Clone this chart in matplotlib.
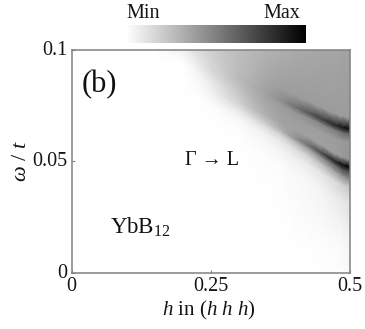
import matplotlib
matplotlib.use("Agg")
import matplotlib.pyplot as plt
import matplotlib.transforms as mtrans
import numpy as np
from matplotlib.cm import ScalarMappable
from matplotlib.colors import Normalize

plt.rcParams['font.family'] = ['Liberation Serif', 'DejaVu Serif']
plt.rcParams['mathtext.fontset'] = 'custom'
plt.rcParams['mathtext.rm'] = 'Liberation Serif'
plt.rcParams['mathtext.it'] = 'Liberation Serif:italic'
plt.rcParams['mathtext.fallback'] = 'stix'

h_vals = [0, .15, .2, .225, .25, .275, .3, .325, .35, .375, .4, .425, .45, .475, .4875, .5]
# rows of the mesh follow the two bands, so each row has its own w per column
w_rows = [
    [.1] * 16,
    [.0975, .0975, .0975, .0965, .096, .094, .092, .089, .0855, .0825, .0795, .0768, .0738, .071, .07, .0694],
    [.095, .095, .095, .093, .091, .089, .087, .084, .0805, .0775, .0745, .0718, .0688, .066, .065, .0644],
    [.0925, .0925, .0925, .0905, .0885, .0865, .0845, .0815, .078, .075, .072, .0693, .0663, .0637, .0627, .0621],
    [.089, .089, .089, .087, .085, .083, .081, .078, .0745, .0715, .0685, .0658, .0628, .06, .059, .0584],
    [.0885, .0835, .0835, .0825, .0805, .0785, .0765, .0735, .0705, .0675, .064, .0608, .057, .053, .0515, .0507],
    [.085, .08, .08, .079, .077, .075, .073, .07, .067, .064, .0605, .0573, .0535, .0497, .0482, .0473],
    [.083, .078, .078, .077, .075, .073, .071, .068, .065, .062, .0585, .0553, .0515, .0477, .0462, .0453],
    [.08, .075, .075, .074, .072, .07, .068, .065, .062, .059, .0555, .0523, .0485, .0447, .0432, .0423],
    [.076, .071, .071, .07, .068, .066, .064, .061, .058, .055, .0515, .0483, .0445, .0407, .0392, .0383],
    [.069, .064, .064, .063, .061, .059, .057, .054, .051, .048, .0445, .0413, .0375, .0337, .0322, .0313],
    [.015] * 16,
    [0] * 16,
]
# intensity read from the grey level
intensity = [
    [0, 0, .06, .14, .19, .23, .26, .28, .30, .31, .33, .34, .35, .35, .36, .36],
    [0, 0, .03, .10, .17, .22, .26, .30, .35, .38, .39, .39, .39, .39, .39, .39],
    [0, 0, .01, .07, .15, .21, .27, .32, .37, .44, .55, .66, .76, .86, .93, .95],
    [0, 0, 0, .04, .12, .19, .25, .31, .36, .38, .41, .44, .47, .52, .58, .60],
    [0, 0, 0, .025, .08, .15, .22, .29, .34, .37, .38, .38, .38, .39, .40, .40],
    [0, 0, 0, .015, .05, .11, .18, .25, .31, .36, .37, .37, .37, .38, .40, .42],
    [0, 0, 0, .005, .025, .06, .10, .15, .21, .30, .42, .57, .72, .88, .96, .98],
    [0, 0, 0, 0, .012, .03, .06, .09, .13, .18, .26, .36, .47, .60, .70, .72],
    [0, 0, 0, 0, .004, .012, .025, .04, .06, .09, .13, .18, .26, .36, .44, .50],
    [0, 0, 0, 0, 0, .004, .01, .02, .035, .05, .065, .08, .11, .15, .19, .23],
    [0, 0, 0, 0, 0, 0, .002, .005, .01, .015, .025, .035, .05, .08, .10, .12],
    [0, 0, 0, 0, 0, 0, 0, .001, .002, .003, .005, .008, .012, .02, .035, .05],
    [0, 0, 0, 0, 0, 0, 0, 0, 0, 0, .001, .002, .004, .006, .01, .02],
]
x_ticks = [0, 0.25, 0.5]
x_labels = ['0', '0.25', '0.5']
y_ticks = [0, 0.05, 0.1]
y_labels = ['0', '0.05', '0.1']

W, H = 365, 329
fig = plt.figure(figsize=(W / 100, H / 100), dpi=100)
ax = fig.add_axes([71.5 / W, 1 - 272.5 / H, 278.5 / W, 222.5 / H])

X, _ = np.meshgrid(h_vals, range(len(w_rows)))
ax.pcolormesh(X, np.array(w_rows), np.array(intensity), shading='gouraud', cmap='gray_r', vmin=0, vmax=1)
ax.set_xlim(0, 0.5)
ax.set_ylim(0, 0.1)

ax.set_xticks(x_ticks, x_labels, fontsize=14.5)
ax.set_yticks(y_ticks, y_labels, fontsize=14.5)
ax.tick_params(direction='in', length=2.5, width=0.8, color='#808080', pad=3, labelcolor='#151515')
# y tick labels sit slightly above their ticks
lift = mtrans.ScaledTranslation(0, 2 / 100, fig.dpi_scale_trans)
for lab in ax.get_yticklabels():
    lab.set_transform(lab.get_transform() + lift)
for s in ax.spines.values():
    s.set_color('#808080')
    s.set_linewidth(1.1)
ax.set_xlabel(r'$h$ in ($h$ $h$ $h$)', fontsize=15, color='#151515')
ax.xaxis.set_label_coords(0.4937, -0.118)
ax.set_ylabel(r'$\omega$ / $t$', fontsize=16, labelpad=1, color='#151515')

ax.text(0.018, 0.0845, '(b)', fontsize=22, va='center', color='#111111')
ax.text(0.203, 0.0505, 'Γ → L', fontsize=14.5, va='center', color='#111111')
ax.text(0.07, 0.0205, r'YbB$_{12}$', fontsize=16.5, va='center', color='#111111')

cax = fig.add_axes([126 / W, 1 - 43 / H, 180 / W, 18 / H])
cb = fig.colorbar(ScalarMappable(Normalize(0, 1), 'gray_r'), cax=cax, orientation='horizontal')
cb.outline.set_visible(False)
cb.set_ticks([])
fig.text(143 / W, 1 - 14 / H, 'Min', fontsize=14.5, ha='center', va='center', color='#151515')
fig.text(282 / W, 1 - 14 / H, 'Max', fontsize=14.5, ha='center', va='center', color='#151515')

fig.savefig('out.png', dpi=100)
